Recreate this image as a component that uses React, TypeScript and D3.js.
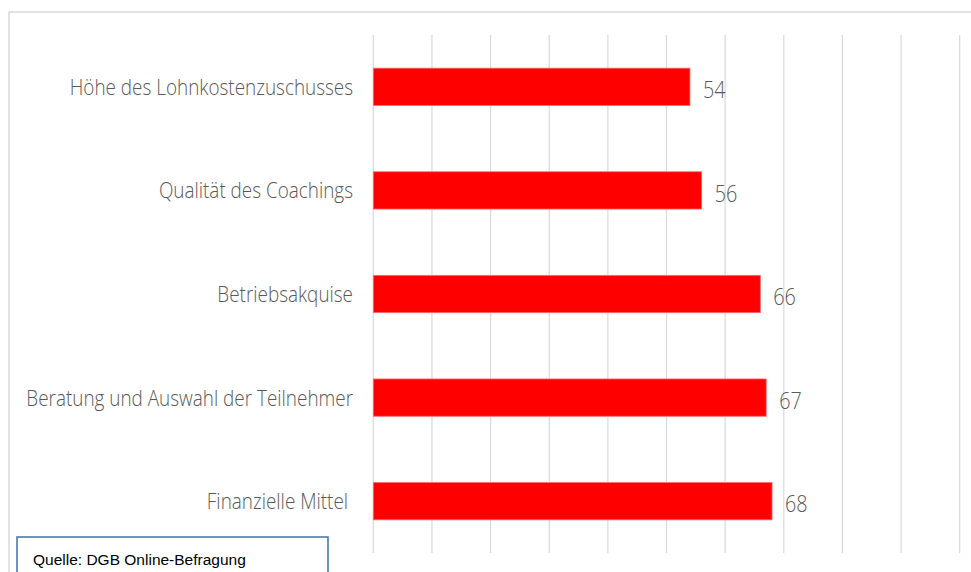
import React from "react";
import * as d3 from "d3";

const categories = [
  "Höhe des Lohnkostenzuschusses",
  "Qualität des Coachings",
  "Betriebsakquise",
  "Beratung und Auswahl der Teilnehmer",
  "Finanzielle Mittel ",
];
const values = [54, 56, 66, 67, 68];
const gridTicks = [0, 10, 20, 30, 40, 50, 60, 70, 80, 90, 100];
const sourceText = "Quelle: DGB Online-Befragung";

const W = 971;
const H = 572;
const SX = 0.86;

export default function App() {
  const x = d3.scaleLinear().domain([0, 100]).range([373.3, 959.7]);
  const y = d3.scaleBand<string>().domain(categories).range([35, 553]).paddingInner(0.64).paddingOuter(0.32);
  const labelFont = "'Open Sans', 'Noto Sans', sans-serif";
  return (
    <svg width={W} height={H} style={{ position: "absolute", left: 0, top: 0, background: "#fff" }}>
      <rect x={9} y={12} width={W + 10} height={H + 10} fill="#fff" stroke="#d9d9d9" strokeWidth={1.5} />
      {gridTicks.map((t) => (
        <line key={t} x1={x(t)} x2={x(t)} y1={35} y2={553} stroke="#d9d9d9" strokeWidth={1.2} />
      ))}
      {categories.map((c, i) => {
        const cy = (y(c) as number) + y.bandwidth() / 2;
        const vx = x(values[i]) + 13;
        return (
          <g key={c}>
            <rect
              x={x(0)}
              y={y(c)}
              width={x(values[i]) - x(0)}
              height={y.bandwidth()}
              fill="#ff0000"
              stroke="#ff6b6b"
              strokeWidth={0.8}
            />
            <g transform={`translate(353,${cy}) scale(${SX},1)`}>
              <text
                x={0}
                y={0}
                dy="0.36em"
                textAnchor="end"
                fontFamily={labelFont}
                fontWeight={300}
                fontSize={22}
                fill="#595959"
                style={{ whiteSpace: "pre" }}
              >
                {c}
              </text>
            </g>
            <g transform={`translate(${vx},${cy + 3}) scale(${SX},1)`}>
              <text x={0} y={0} dy="0.36em" fontFamily={labelFont} fontWeight={300} fontSize={23} fill="#595959">
                {values[i]}
              </text>
            </g>
          </g>
        );
      })}
      <rect x={17} y={537} width={311} height={50} fill="#fff" stroke="#41719c" strokeWidth={1.5} />
      <text x={33} y={565} fontFamily="'Liberation Sans', 'Open Sans', sans-serif" fontSize={15.5} fill="#000">
        {sourceText}
      </text>
    </svg>
  );
}
